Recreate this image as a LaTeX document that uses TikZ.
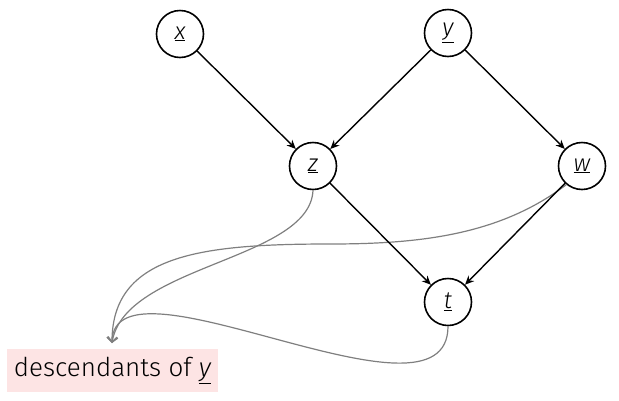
\documentclass[tikz,border=0pt]{standalone}
\usepackage{fontspec}
\setmainfont{Fira Sans Light}[ItalicFont={Fira Sans Light Italic}]
\usetikzlibrary{arrows.meta}
\definecolor{labelpink}{HTML}{FDE4E4}
\definecolor{curvegray}{HTML}{7F7F7F}
\begin{document}
\begin{tikzpicture}[x=1pt,y=-1pt,
  var/.style={circle,draw=black,line width=1.6pt,minimum size=47pt,inner sep=0pt,font=\fontsize{24}{28}\selectfont},
  edge/.style={line width=1.4pt,-{Stealth[length=9pt,width=8pt,inset=3pt]}},
  desc/.style={line width=1.2pt,draw=curvegray,-{Straight Barb[length=5pt,width=10pt,line width=1.2pt]}}]
\useasboundingbox (0,0) rectangle (619,400);
\node[var] (x) at (180,34) {\underline{\itshape x}};
\node[var] (y) at (448,33) {\underline{\itshape y}};
\node[var] (z) at (313,166) {\underline{\itshape z}};
\node[var] (w) at (582,166) {\underline{\itshape w}};
\node[var] (t) at (448,302) {\underline{\itshape t}};
\node[fill=labelpink,minimum width=211pt,minimum height=43pt,inner sep=0pt,font=\fontsize{26}{30}\selectfont] (lab) at (112.5,370.5) {descendants of \underline{\itshape y}};
\coordinate (tip) at (112,343);
\draw[desc] (z.south) .. controls (310,260) and (125,265) .. (tip);
\draw[desc] (w.230) .. controls (500,235) and (420,244) .. (330,244) .. controls (200,244) and (112,255) .. (tip);
\draw[desc] (t.south) .. controls (448,440) and (114,245) .. (tip);
\draw[edge] (x) -- (z);
\draw[edge] (y) -- (z);
\draw[edge] (y) -- (w);
\draw[edge] (z) -- (t);
\draw[edge] (w) -- (t);
\end{tikzpicture}
\end{document}
